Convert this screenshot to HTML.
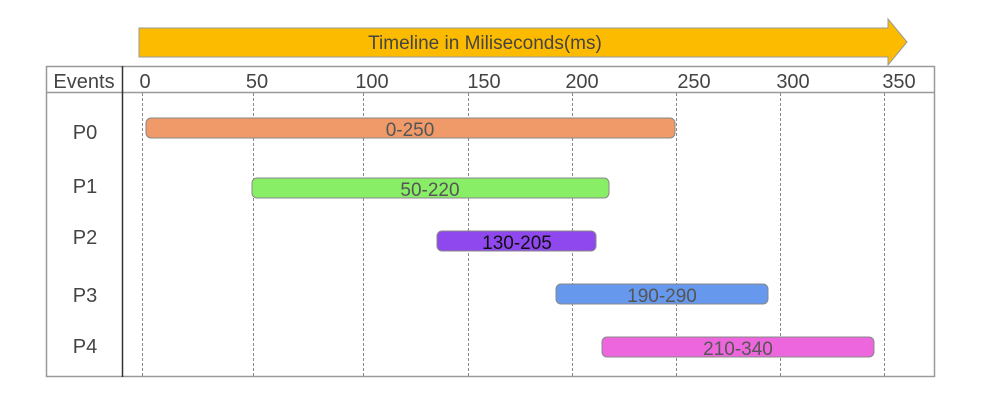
<!DOCTYPE html>
<html><head><style>body{margin:0;background:#fff}</style></head><body>
<svg width="1002" height="400" xmlns="http://www.w3.org/2000/svg" font-family="'Liberation Sans', sans-serif">
<polygon points="139,28 888,28 888,19 907,42 888,65 888,57 139,57" fill="#FDBB00" stroke="#999" stroke-width="1"/>
<text x="485" y="49" font-size="19" fill="#444" text-anchor="middle">Timeline in Miliseconds(ms)</text>
<rect x="46.5" y="66.5" width="888" height="310" fill="none" stroke="#999" stroke-width="1.5"/>
<line x1="46" y1="92.5" x2="934" y2="92.5" stroke="#999" stroke-width="1.5"/>
<line x1="122.5" y1="66" x2="122.5" y2="377" stroke="#333" stroke-width="1.5"/>
<g stroke="#888" stroke-dasharray="3,2" stroke-width="1">
<line x1="142.5" y1="93" x2="142.5" y2="377"/><line x1="253.5" y1="93" x2="253.5" y2="377"/>
<line x1="363.5" y1="93" x2="363.5" y2="377"/><line x1="468.5" y1="93" x2="468.5" y2="377"/>
<line x1="572.5" y1="93" x2="572.5" y2="377"/><line x1="676.5" y1="93" x2="676.5" y2="377"/>
<line x1="780.5" y1="93" x2="780.5" y2="377"/><line x1="884.5" y1="93" x2="884.5" y2="377"/>
</g>
<g font-size="20" fill="#444" text-anchor="middle">
<text x="84" y="88">Events</text>
<text x="145" y="88">0</text><text x="257" y="88">50</text><text x="372" y="88">100</text>
<text x="484" y="88">150</text><text x="582" y="88">200</text><text x="694" y="88">250</text>
<text x="793" y="88">300</text><text x="899" y="88">350</text>
<text x="85" y="139">P0</text><text x="85" y="193">P1</text><text x="85" y="244">P2</text>
<text x="85" y="302">P3</text><text x="85" y="353">P4</text>
</g>
<g stroke="#888" stroke-width="1">
<rect x="146" y="118" width="529" height="20" rx="5" fill="#EF9A68"/>
<rect x="252" y="178" width="357" height="20" rx="5" fill="#88EE66"/>
<rect x="437" y="231" width="159" height="20" rx="5" fill="#8F48EE"/>
<rect x="556" y="284" width="212" height="20" rx="5" fill="#6699EE"/>
<rect x="602" y="337" width="272" height="20" rx="5" fill="#EE66DD"/>
</g>
<g font-size="19" fill="#555" text-anchor="middle">
<text x="410" y="136">0-250</text>
<text x="430" y="196">50-220</text>
<text x="517" y="249" fill="#111">130-205</text>
<text x="662" y="302">190-290</text>
<text x="738" y="355">210-340</text>
</g>
</svg>
</body></html>
